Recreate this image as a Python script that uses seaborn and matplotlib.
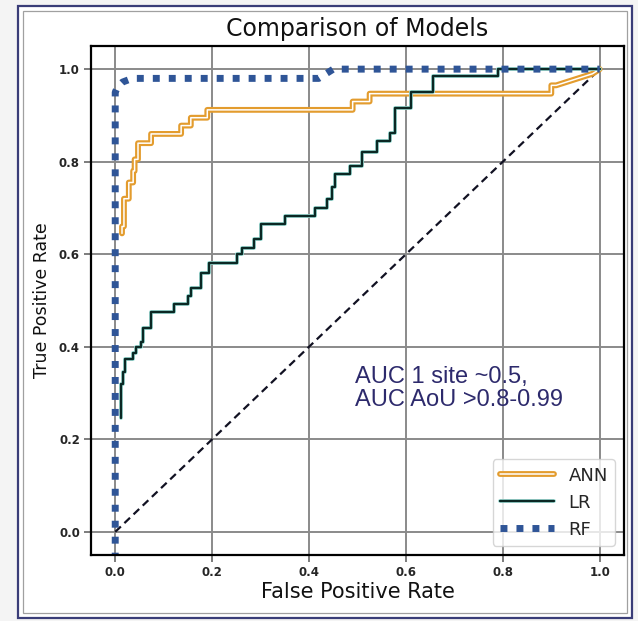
import numpy as np
import pandas as pd
import matplotlib
matplotlib.use("Agg")
import matplotlib.pyplot as plt
import matplotlib.patheffects as pe
from matplotlib.patches import Rectangle
import seaborn as sns

# ROC corner points
ann_fpr = [0.014, 0.014, 0.018, 0.018, 0.028, 0.028, 0.037, 0.037, 0.040, 0.040,
           0.047, 0.047, 0.074, 0.074, 0.136, 0.136, 0.156, 0.156, 0.19, 0.19,
           0.49, 0.49, 0.525, 0.525, 0.90, 0.90, 0.91, 0.985, 1.0]
ann_tpr = [0.645, 0.66, 0.66, 0.72, 0.72, 0.755, 0.755, 0.78, 0.78, 0.805,
           0.805, 0.84, 0.84, 0.86, 0.86, 0.878, 0.878, 0.895, 0.895, 0.912,
           0.912, 0.93, 0.93, 0.947, 0.947, 0.965, 0.965, 0.99, 1.0]

lr_fpr = [0.012, 0.012, 0.016, 0.016, 0.02, 0.02, 0.037, 0.037, 0.043, 0.043,
          0.053, 0.053, 0.058, 0.058, 0.074, 0.074, 0.121, 0.121, 0.15, 0.15,
          0.156, 0.156, 0.177, 0.177, 0.193, 0.193, 0.252, 0.252, 0.262, 0.262,
          0.286, 0.286, 0.30, 0.30, 0.35, 0.35, 0.413, 0.413, 0.437, 0.437,
          0.447, 0.447, 0.454, 0.454, 0.485, 0.485, 0.51, 0.51, 0.54, 0.54,
          0.567, 0.567, 0.577, 0.577, 0.61, 0.61, 0.655, 0.655, 0.79, 0.79, 1.0]
lr_tpr = [0.245, 0.32, 0.32, 0.345, 0.345, 0.373, 0.373, 0.386, 0.386, 0.40,
          0.40, 0.41, 0.41, 0.44, 0.44, 0.475, 0.475, 0.492, 0.492, 0.51,
          0.51, 0.527, 0.527, 0.56, 0.56, 0.58, 0.58, 0.60, 0.60, 0.614,
          0.614, 0.633, 0.633, 0.666, 0.666, 0.683, 0.683, 0.70, 0.70, 0.72,
          0.72, 0.745, 0.745, 0.774, 0.774, 0.79, 0.79, 0.82, 0.82, 0.845,
          0.845, 0.863, 0.863, 0.915, 0.915, 0.95, 0.95, 0.985, 0.985, 1.0, 1.0]

rf_fpr = [0.0, 0.0, 0.005, 0.015, 0.035, 0.42, 0.45, 1.0]
rf_tpr = [-0.06, 0.95, 0.962, 0.972, 0.98, 0.98, 1.0, 1.0]

chance = [0.0, 1.0]
ticks = [0.0, 0.2, 0.4, 0.6, 0.8, 1.0]
note = "AUC 1 site ~0.5,\nAUC AoU >0.8-0.99"

sns.set_theme(style="whitegrid")
plt.rcParams["font.family"] = ["DejaVu Sans"]

fig = plt.figure(figsize=(6.38, 6.21), dpi=100, facecolor="#f4f4f4")
# picture frame (outer navy, inner gray)
fig.patches.append(Rectangle((18 / 638, 3 / 621), 614 / 638, 612 / 621, transform=fig.transFigure,
                             facecolor="white", edgecolor="#3a3d78", lw=1.6, zorder=-2))
fig.patches.append(Rectangle((23 / 638, 8 / 621), 604 / 638, 602 / 621, transform=fig.transFigure,
                             facecolor="none", edgecolor="#a0a0a0", lw=0.9, zorder=-1))

ax = fig.add_axes([91 / 638, 1 - 555 / 621, 533 / 638, 509 / 621])
ax.set_facecolor("white")

sns.lineplot(x=chance, y=chance, ax=ax, color="#111122", lw=1.6,
             linestyle=(0, (3.5, 2.2)), sort=False, estimator=None)

ann = pd.DataFrame({"fpr": ann_fpr, "tpr": ann_tpr})
sns.lineplot(data=ann, x="fpr", y="tpr", ax=ax, sort=False, estimator=None,
             color="white", lw=1.1, label="ANN",
             path_effects=[pe.Stroke(linewidth=4.2, foreground="#e39c2e"), pe.Normal()])

lr = pd.DataFrame({"fpr": lr_fpr, "tpr": lr_tpr})
sns.lineplot(data=lr, x="fpr", y="tpr", ax=ax, sort=False, estimator=None,
             color="#0b2824", lw=1.7, label="LR",
             path_effects=[pe.Stroke(linewidth=2.8, foreground="#9fe0d8"), pe.Normal()])

rf = pd.DataFrame({"fpr": rf_fpr, "tpr": rf_tpr})
sns.lineplot(data=rf, x="fpr", y="tpr", ax=ax, sort=False, estimator=None,
             color="#2f5597", lw=5, linestyle=(0, (1, 1.3)), label="RF",
             dash_capstyle="butt")

ax.set_xlim(-0.05, 1.05)
ax.set_ylim(-0.05, 1.05)
ax.set_xticks(ticks)
ax.set_yticks(ticks)
ax.set_xticklabels([f"{t:.1f}" for t in ticks], fontsize=8.5, fontweight="bold")
ax.set_yticklabels([f"{t:.1f}" for t in ticks], fontsize=8.5, fontweight="bold")
ax.tick_params(axis="both", length=5, width=1.2, color="#666666", pad=3, bottom=True, left=True)
ax.grid(True, color="#8a8a8a", lw=1.4)
for s in ax.spines.values():
    s.set_color("black")
    s.set_linewidth(1.6)

ax.set_title("Comparison of Models", fontsize=17, pad=7, color="#111111")
ax.set_xlabel("False Positive Rate", fontsize=15, labelpad=2, color="#111111")
ax.set_ylabel("True Positive Rate", fontsize=12.5, labelpad=6, color="#111111")

ax.text(0.495, 0.31, note, fontsize=17, color="#2d2a6c", va="center", ha="left",
        family=["Liberation Sans", "DejaVu Sans"], linespacing=1.1)

h, l = ax.get_legend_handles_labels()
ax.legend(h, l, loc="lower right", fontsize=13, handlelength=3.0, frameon=True,
          framealpha=0.8, edgecolor="#cccccc", borderaxespad=0.5)

fig.savefig("out.png", dpi=100, facecolor=fig.get_facecolor())
